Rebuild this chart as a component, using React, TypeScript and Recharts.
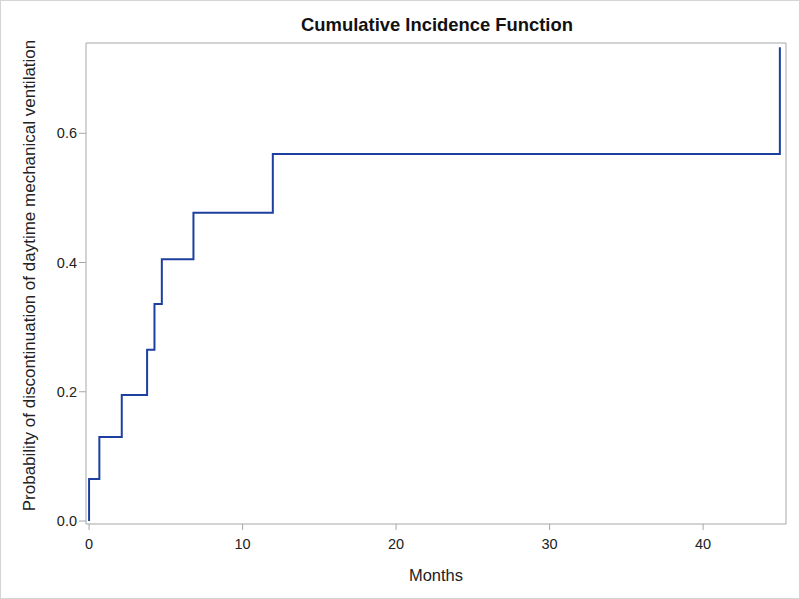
import { LineChart, Line, XAxis, YAxis, Label } from "recharts";

// step times (months) and cumulative incidence after each step
const months = [0, 0, 0.67, 2.13, 3.78, 4.26, 4.74, 6.8, 11.97, 45];
const incidence = [0, 0.065, 0.13, 0.195, 0.265, 0.336, 0.405, 0.477, 0.568, 0.733];
const xTicks = [0, 10, 20, 30, 40];
const yTicks = [0, 0.2, 0.4, 0.6];

const AXIS = "#a3a7ab";
const FONT = "Arial, 'Liberation Sans', sans-serif";
const Y_LABEL = "Probability of discontinuation of daytime mechanical ventilation";

const data = months.map((m, i) => ({ month: m, cif: incidence[i] }));

const YTitle = (props: any) => {
  const vb = props.viewBox || { x: 0, y: 0, width: 85, height: 0 };
  const cx = vb.x + 28;
  const cy = vb.y + vb.height / 2 - 8;
  return (
    <text
      x={cx}
      y={cy}
      transform={`rotate(-90, ${cx}, ${cy})`}
      textAnchor="middle"
      dominantBaseline="central"
      fill="#222"
      fontSize={17}
      fontFamily={FONT}
    >
      {Y_LABEL}
    </text>
  );
};

export default function App() {
  return (
    <div
      style={{
        position: "absolute",
        left: 0,
        top: 0,
        width: 798,
        height: 597,
        border: "1px solid #d4d4d4",
        background: "#fff",
        fontFamily: FONT,
      }}
    >
      <div
        style={{
          position: "absolute",
          left: 86,
          width: 700,
          top: 13,
          textAlign: "center",
          fontSize: 18.4,
          fontWeight: "bold",
          color: "#111",
        }}
      >
        Cumulative Incidence Function
      </div>
      <LineChart
        width={798}
        height={597}
        data={data}
        margin={{ top: 41, right: 12, bottom: 0, left: 0 }}
      >
        <XAxis
          dataKey="month"
          type="number"
          domain={[-0.2, 45.4]}
          ticks={xTicks}
          allowDataOverflow
          stroke={AXIS}
          tickSize={6}
          tick={{ fill: "#222", fontSize: 14.5, fontFamily: FONT, dy: 7 }}
          height={74}
        >
          <Label
            value="Months"
            position="insideBottom"
            offset={17}
            style={{ fill: "#222", fontSize: 16.5, fontFamily: FONT }}
          />
        </XAxis>
        <XAxis
          xAxisId="top"
          orientation="top"
          type="number"
          dataKey="month"
          domain={[-0.2, 45.4]}
          tick={false}
          tickLine={false}
          stroke={AXIS}
          height={1}
        />
        <YAxis
          type="number"
          domain={[-0.0046, 0.7397]}
          ticks={yTicks}
          allowDataOverflow
          stroke={AXIS}
          tickSize={7}
          tickFormatter={(v: number) => v.toFixed(1)}
          tick={{ fill: "#222", fontSize: 14.5, fontFamily: FONT }}
          width={85}
        >
          <Label content={<YTitle />} />
        </YAxis>
        <YAxis
          yAxisId="right"
          orientation="right"
          type="number"
          domain={[-0.0046, 0.7397]}
          tick={false}
          tickLine={false}
          stroke={AXIS}
          width={1}
        />
        <Line
          type="stepAfter"
          dataKey="cif"
          stroke="#1d3f9f"
          strokeWidth={2}
          dot={false}
          isAnimationActive={false}
        />
      </LineChart>
    </div>
  );
}
